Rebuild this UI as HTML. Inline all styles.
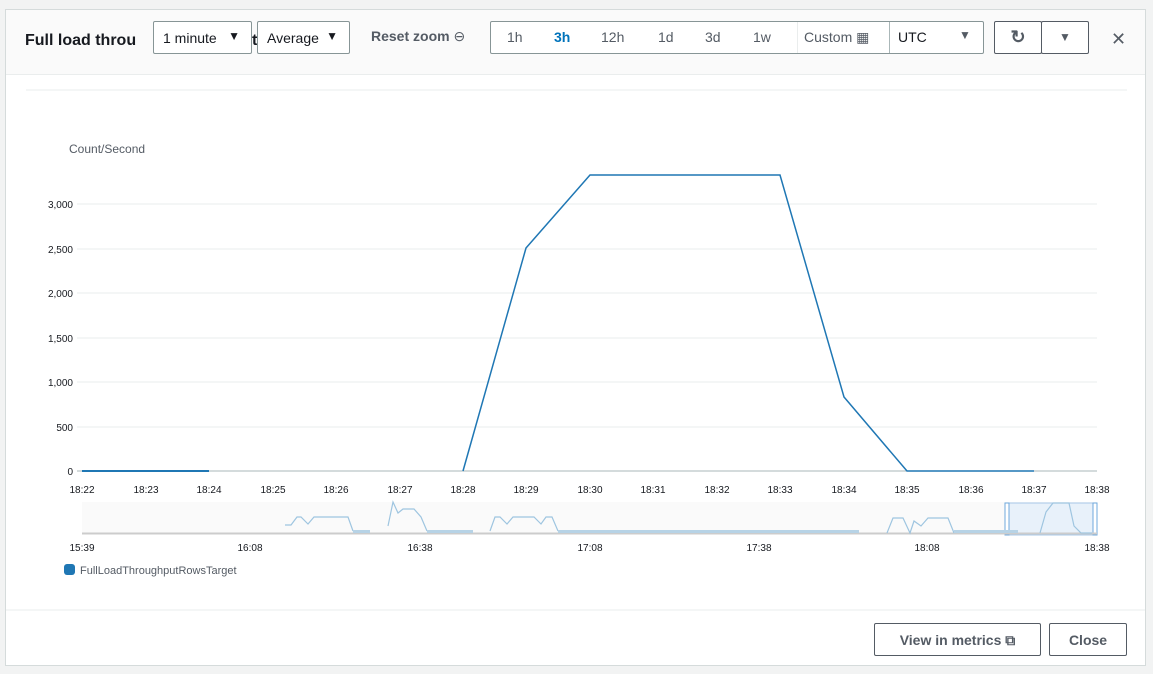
<!DOCTYPE html>
<html><head><meta charset="utf-8"><style>
body{margin:0;width:1153px;height:674px;background:#f2f3f3;font-family:"Liberation Sans",sans-serif;overflow:hidden;position:relative}
.modal{position:absolute;left:5px;top:9px;width:1141px;height:657px;background:#fff;border:1px solid #d5dbdb;box-sizing:border-box}
.hdr{position:absolute;left:0;top:0;right:0;height:64px;background:#fafafa;border-bottom:1px solid #eaeded}
.t{position:absolute;font-size:14px;color:#16191f}
.box{position:absolute;border:1px solid #879596;background:#fff;box-sizing:border-box;font-size:14px;color:#16191f;border-radius:2px}
.btn{position:absolute;border:1px solid #545b64;background:#fff;box-sizing:border-box;font-size:14px;font-weight:bold;color:#545b64;border-radius:2px;text-align:center}
</style></head><body>
<div class="modal">
<div class="hdr"></div>
</div>
<div class="t" style="left:25px;top:32px;font-size:16px;font-weight:bold">Full load throu</div>
<div class="t" style="left:252px;top:32px;font-size:16px;font-weight:bold">t</div>
<div class="box" style="left:153px;top:21px;width:99px;height:33px;padding:8px 0 0 9px">1 minute<span style="position:absolute;right:11px;top:7px;font-size:12px">▼</span></div>
<div class="box" style="left:257px;top:21px;width:93px;height:33px;padding:8px 0 0 9px">Average<span style="position:absolute;right:11px;top:7px;font-size:12px">▼</span></div>
<div class="t" style="left:371px;top:28px;font-weight:bold;color:#545b64">Reset zoom <span style="font-weight:normal">⊖</span></div>
<div class="box" style="left:490px;top:21px;width:494px;height:33px"></div>
<div class="t" style="left:507px;top:29px;color:#545b64">1h</div>
<div class="t" style="left:554px;top:29px;color:#0073bb;font-weight:bold">3h</div>
<div class="t" style="left:601px;top:29px;color:#545b64">12h</div>
<div class="t" style="left:658px;top:29px;color:#545b64">1d</div>
<div class="t" style="left:705px;top:29px;color:#545b64">3d</div>
<div class="t" style="left:753px;top:29px;color:#545b64">1w</div>
<div style="position:absolute;left:797px;top:22px;width:1px;height:31px;background:#eaeded"></div>
<div class="t" style="left:804px;top:29px;color:#545b64">Custom ▦</div>
<div style="position:absolute;left:889px;top:22px;width:1px;height:31px;background:#aab7b8"></div>
<div class="t" style="left:898px;top:29px">UTC</div>
<div class="t" style="left:959px;top:28px;font-size:12px;color:#545b64">▼</div>
<div class="btn" style="left:994px;top:21px;width:48px;height:33px;padding-top:5px;font-size:18px">↻</div>
<div class="btn" style="left:1041px;top:21px;width:48px;height:33px;padding-top:8px;font-size:12px">▼</div>
<div class="t" style="left:1111px;top:30px;font-size:18px;color:#545b64;line-height:18px">✕</div>
<svg width="1153" height="674" style="position:absolute;left:0;top:0" font-family="Liberation Sans, sans-serif">
<line x1="26" y1="90" x2="1127" y2="90" stroke="#eaeded"/>
<text x="69" y="153" font-size="12" fill="#545b64">Count/Second</text>
<g stroke="#eaeded">
<line x1="77" x2="1097" y1="204" y2="204"/><line x1="77" x2="1097" y1="249" y2="249"/><line x1="77" x2="1097" y1="293" y2="293"/><line x1="77" x2="1097" y1="338" y2="338"/><line x1="77" x2="1097" y1="382" y2="382"/><line x1="77" x2="1097" y1="427" y2="427"/>
</g>
<line x1="77" x2="1097" y1="471" y2="471" stroke="#aab7b8"/>
<g font-size="10" fill="#16191f" text-anchor="end">
<text x="73" y="208">3,000</text><text x="73" y="253">2,500</text><text x="73" y="297">2,000</text><text x="73" y="342">1,500</text><text x="73" y="386">1,000</text><text x="73" y="431">500</text><text x="73" y="475">0</text>
</g>
<g font-size="10" fill="#16191f" text-anchor="middle">
<text x="82" y="493">18:22</text><text x="146" y="493">18:23</text><text x="209" y="493">18:24</text><text x="273" y="493">18:25</text><text x="336" y="493">18:26</text><text x="400" y="493">18:27</text><text x="463" y="493">18:28</text><text x="526" y="493">18:29</text><text x="590" y="493">18:30</text><text x="653" y="493">18:31</text><text x="717" y="493">18:32</text><text x="780" y="493">18:33</text><text x="844" y="493">18:34</text><text x="907" y="493">18:35</text><text x="971" y="493">18:36</text><text x="1034" y="493">18:37</text><text x="1097" y="493">18:38</text>
</g>
<polyline points="82,471 209,471" fill="none" stroke="#1f77b4" stroke-width="2"/>
<polyline points="463,471 526,248 590,175 780,175 844,397 907,471 1034,471" fill="none" stroke="#1f77b4" stroke-width="1.5"/>
<rect x="82" y="502" width="1015" height="31" fill="#fafafa"/>
<rect x="1006" y="503" width="90" height="32" fill="#e8f1fa" stroke="#a8c8e8"/>
<rect x="1005" y="503" width="4" height="32" fill="#fff" stroke="#6fa8dc"/>
<rect x="1093" y="503" width="4" height="32" fill="#fff" stroke="#6fa8dc"/>
<line x1="82" x2="1097" y1="533.5" y2="533.5" stroke="#ccc" stroke-width="2"/>
<g fill="none" stroke="#9ec5e0" stroke-width="1.2">
<polyline points="285,525 291,525 297,517 301,517 308,524 314,517 348,517 353,531"/>
<polyline points="388,526 393,502 398,513 403,509 414,509 421,517 427,531"/>
<polyline points="490,531 495,517 500,517 507,524 513,517 534,517 541,524 546,517 552,517 558,531"/>
<polyline points="887,533 893,518 903,518 910,533 914,521 921,526 928,518 948,518 954,533"/>
<polyline points="1040,533 1046,512 1053,503 1069,503 1074,526 1081,533 1092,533"/>
</g>
<g stroke="#b7d3e6" stroke-width="3">
<line x1="353" x2="370" y1="531.5" y2="531.5"/><line x1="427" x2="473" y1="531.5" y2="531.5"/><line x1="558" x2="859" y1="531.5" y2="531.5"/><line x1="954" x2="1018" y1="531.5" y2="531.5"/>
</g>
<g font-size="10" fill="#16191f" text-anchor="middle">
<text x="82" y="551">15:39</text><text x="250" y="551">16:08</text><text x="420" y="551">16:38</text><text x="590" y="551">17:08</text><text x="759" y="551">17:38</text><text x="927" y="551">18:08</text><text x="1097" y="551">18:38</text>
</g>
<rect x="64" y="564" width="11" height="11" rx="3" fill="#1f77b4"/>
<text x="80" y="574" font-size="11" fill="#545b64">FullLoadThroughputRowsTarget</text>
<line x1="6" y1="610" x2="1145" y2="610" stroke="#eaeded"/>
</svg>
<div class="btn" style="left:874px;top:623px;width:167px;height:33px;padding-top:8px">View in metrics ⧉</div>
<div class="btn" style="left:1049px;top:623px;width:78px;height:33px;padding-top:8px">Close</div>
</body></html>
